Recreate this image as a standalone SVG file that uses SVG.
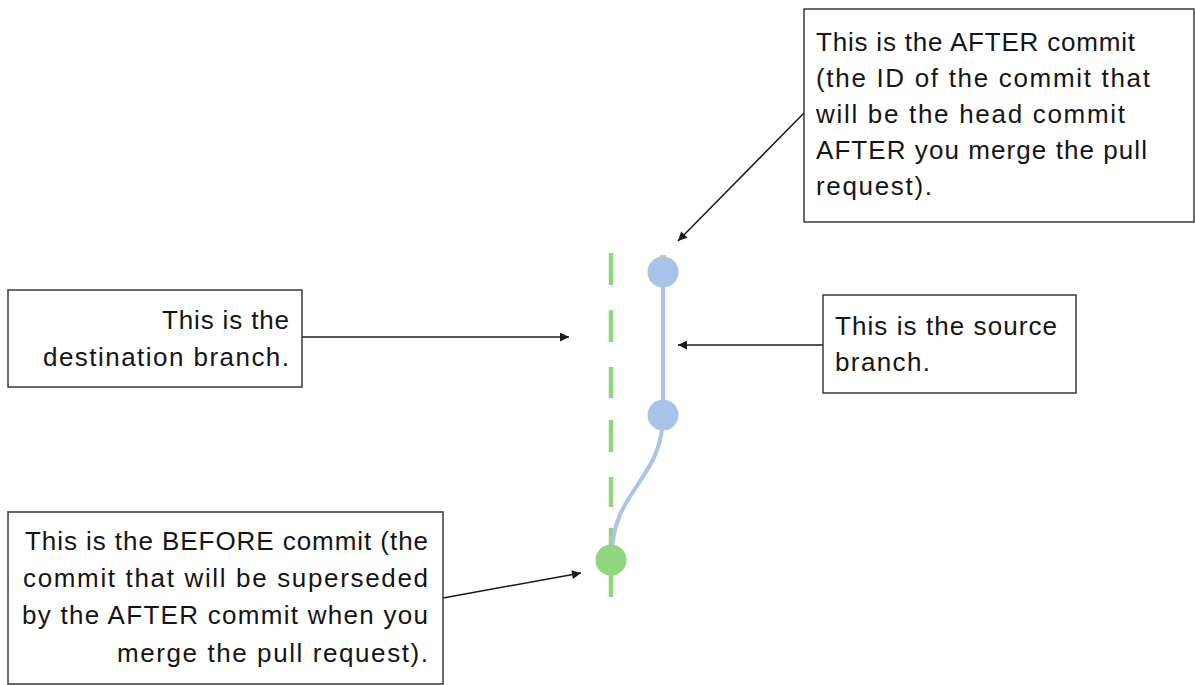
<svg xmlns="http://www.w3.org/2000/svg" width="1195" height="685" viewBox="0 0 1195 685">
<style>
.box{fill:#fff;stroke:#3a3a3a;stroke-width:1.5}
.t{font-family:"Liberation Sans",Arial,sans-serif;font-size:26px;fill:#151515}
.e{text-anchor:end}
.conn{stroke:#1a1a1a;stroke-width:1.5;fill:none;marker-end:url(#ah)}
</style>
<defs>
<marker id="ah" viewBox="0 0 10 10" refX="10" refY="5" markerWidth="10" markerHeight="9" markerUnits="userSpaceOnUse" orient="auto">
<path d="M0,0 L10,5 L0,10 z" fill="#1a1a1a"/>
</marker>
</defs>
<g id="branches">
<line x1="611" y1="253" x2="611" y2="597" stroke="#8fd67d" stroke-width="4.5" stroke-dasharray="32 25 32 25 31 22 32 25 30 21 69 100"/>
<line x1="663" y1="272" x2="663" y2="415" stroke="#a9c4e8" stroke-width="4"/>
<path d="M663,415 C663,480 612,490 612,555" stroke="#a9c4e8" stroke-width="4" fill="none"/>
<line x1="660" y1="256" x2="666" y2="256" stroke="#f0a060" stroke-width="1.5"/>
</g>
<g id="commit-after"><circle cx="663" cy="272" r="15.5" fill="#a9c4e8"/></g>
<g id="commit-mid"><circle cx="663" cy="415" r="15.5" fill="#a9c4e8"/></g>
<g id="commit-before"><circle cx="611" cy="560" r="15.5" fill="#8fd67d"/></g>
<g id="connectors">
<line class="conn" x1="804" y1="113" x2="678" y2="241"/>
<line class="conn" x1="302" y1="337" x2="569" y2="337"/>
<line class="conn" x1="823" y1="345" x2="678" y2="345"/>
<line class="conn" x1="443" y1="598" x2="581" y2="573"/>
</g>
<g id="note-after">
<rect class="box" x="804" y="9" width="390" height="213"/>
<text class="t" x="816" y="51" textLength="319" lengthAdjust="spacing">This is the AFTER commit</text>
<text class="t" x="816" y="87" textLength="334" lengthAdjust="spacing">(the ID of the commit that</text>
<text class="t" x="816" y="123" textLength="309" lengthAdjust="spacing">will be the head commit</text>
<text class="t" x="816" y="159" textLength="331" lengthAdjust="spacing">AFTER you merge the pull</text>
<text class="t" x="816" y="195" textLength="116" lengthAdjust="spacing">request).</text>
</g>
<g id="note-destination">
<rect class="box" x="8" y="290" width="294" height="97"/>
<text class="t e" x="289" y="329" textLength="127" lengthAdjust="spacing">This is the</text>
<text class="t e" x="289" y="366" textLength="246" lengthAdjust="spacing">destination branch.</text>
</g>
<g id="note-source">
<rect class="box" x="823" y="295" width="253" height="98"/>
<text class="t" x="835" y="335" textLength="222" lengthAdjust="spacing">This is the source</text>
<text class="t" x="835" y="371" textLength="95" lengthAdjust="spacing">branch.</text>
</g>
<g id="note-before">
<rect class="box" x="8" y="512" width="435" height="172"/>
<text class="t e" x="428" y="550" textLength="403" lengthAdjust="spacing">This is the BEFORE commit (the</text>
<text class="t e" x="428" y="587" textLength="405" lengthAdjust="spacing">commit that will be superseded</text>
<text class="t e" x="428" y="624" textLength="406" lengthAdjust="spacing">by the AFTER commit when you</text>
<text class="t e" x="428" y="662" textLength="311" lengthAdjust="spacing">merge the pull request).</text>
</g>
</svg>
